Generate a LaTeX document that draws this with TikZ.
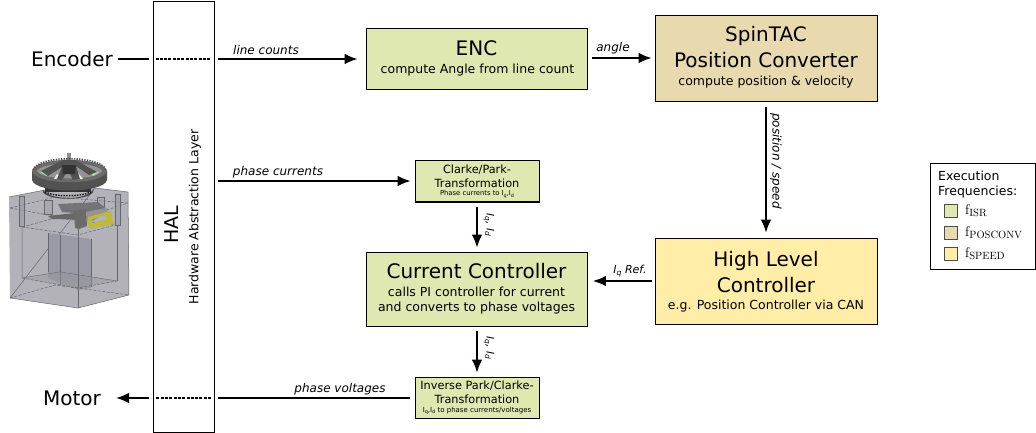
\documentclass[tikz,border=0pt]{standalone}
\usepackage{fontspec}
\setmainfont{DejaVu Sans}
\newfontfamily\lmr{Latin Modern Roman}
\usetikzlibrary{arrows.meta,calc}
\definecolor{cgreen}{HTML}{DFE8B0}
\definecolor{ctan}{HTML}{E8DAAE}
\definecolor{cyel}{HTML}{FFEDA8}
\definecolor{gblock}{HTML}{B2B2B8}
\definecolor{gcol}{HTML}{9A9AA6}
\definecolor{gline}{HTML}{666670}
\newcommand{\fs}[1]{\fontsize{#1}{#1}\selectfont}
\newcommand{\subq}[1]{\raisebox{-1.5pt}{\scalebox{.7}{#1}}}
\tikzset{
  x=1pt,y=-1pt,
  blk/.style={draw=black,line width=1.3pt,align=center,inner sep=0pt,anchor=north west},
  conn/.style={line width=1.5pt,-{Latex[length=13pt,width=10.5pt]}},
  plain/.style={line width=1.5pt},
  hid/.style={line width=1.4pt,dash pattern=on 3pt off 1.3pt},
  lab/.style={font=\fs{12}\itshape,inner sep=0pt},
  sw/.style={draw=black!70,line width=.8pt,minimum width=13pt,minimum height=13pt,inner sep=0pt},
  gl/.style={draw=gline,line width=.5pt},
  gd/.style={draw=gline,line width=.5pt,dash pattern=on 3pt off 1.5pt}
}
\begin{document}
\begin{tikzpicture}
\useasboundingbox (0,0) rectangle (1036,433);
\fill[white] (0,0) rectangle (1036,433);

% HAL
\node[blk,minimum width=61pt,minimum height=431pt,fill=white] (hal) at (152.7,0.8) {};
\node[rotate=90,font=\fs{19}] (haltxt) at (172,225) {HAL};
\node[rotate=90,font=\fs{12.5}] (halsub) at (195,217) {Hardware Abstraction Layer};

% Boxes
\node[blk,fill=cgreen,minimum width=221pt,minimum height=61pt] (enc) at (365.6,27.6) {};
\node[font=\fs{20}] (enct) at (476.5,48) {ENC};
\node[font=\fs{12.5}] (encs) at (477.5,70) {compute Angle from line count};

\node[blk,fill=ctan,minimum width=222pt,minimum height=86pt] (spin) at (654.6,14.6) {};
\node[font=\fs{20}] (spt) at (766,36) {SpinTAC};
\node[font=\fs{20}] (spp) at (766,60) {Position Converter};
\node[font=\fs{12.5}] (sps) at (766,82) {compute position \& velocity};

\node[blk,fill=cyel,minimum width=222pt,minimum height=86pt] (hlc) at (654.6,237.6) {};
\node[font=\fs{20}] (hl1) at (766,261) {High Level};
\node[font=\fs{20}] (hl2) at (766,285) {Controller};
\node[font=\fs{12.5}] (hl3) at (766,306) {e.g. Position Controller via CAN};

\node[blk,fill=cgreen,minimum width=221pt,minimum height=74pt] (cc) at (365.6,251.6) {};
\node[font=\fs{20}] (cc1) at (476.5,271) {Current Controller};
\node[font=\fs{12.5}] (cc2) at (476.5,292) {calls PI controller for current};
\node[font=\fs{12.5}] (cc3) at (476.5,308) {and converts to phase voltages};

\node[blk,fill=cgreen,minimum width=124pt,minimum height=41pt] (cp) at (414.6,160.2) {};
\node[font=\fs{11.3}] (cp1) at (477,170) {Clarke/Park-};
\node[font=\fs{11.3}] (cp2) at (477,183.5) {Transformation};
\node[font=\fs{6.8}] (cp3) at (477,194.5) {Phase currents to I\subq{q},I\subq{d}};

\node[blk,fill=cgreen,minimum width=124pt,minimum height=41pt] (ip) at (414.6,376.6) {};
\node[font=\fs{11.3}] (ip1) at (477,386) {Inverse Park/Clarke-};
\node[font=\fs{11.3}] (ip2) at (477,399.5) {Transformation};
\node[font=\fs{7}] (ip3) at (477,411) {I\subq{q},I\subq{d} to phase currents/voltages};

% Encoder / Motor
\node[font=\fs{20},inner sep=0pt] (encoder) at (72,59) {Encoder};
\node[font=\fs{20},inner sep=0pt] (motor) at (72,398) {Motor};

\coordinate (hlE) at (149,59);
\coordinate (hrE) at (218,59);
\coordinate (hlM) at (149,398);
\coordinate (hrM) at (218,398);
\coordinate (hrP) at (218,181);

\draw[plain] ($(encoder.east)+(5,0)$) -- (hlE);
\draw[hid] (155.5,59) -- (211,59);
\draw[conn,shorten >=8pt] (hrE) -- (enc.west |- hrE);
\node[lab] (lc) at (266,50) {line counts};
\draw[conn,shorten >=4pt] (hrP) -- (cp.west |- hrP);
\node[lab] (pc) at (278,172) {phase currents};
\draw[conn,shorten >=3pt,shorten <=4pt] (enc.east |- 0,58) -- (spin.west |- 0,58);
\node[lab] (ang) at (613,48) {angle};
\draw[conn,shorten >=5pt,shorten <=6pt] (766,101) -- (hlc.north -| 766,0);
\node[lab,rotate=-90] (ps) at (776,161) {position / speed};
\draw[conn,shorten >=4pt,shorten <=4pt] (cp.south -| 477,0) -- (cc.north -| 477,0);
\node[lab,rotate=-90,font=\fs{10.5}\itshape] (iq1) at (489,225) {I\subq{q}, I\subq{d}};
\draw[conn,shorten >=4pt,shorten <=4pt] (cc.south -| 477,0) -- (ip.north -| 477,0);
\node[lab,rotate=-90,font=\fs{10.5}\itshape] (iq2) at (489,348) {I\subq{q}, I\subq{d}};
\draw[conn,shorten >=5pt,shorten <=3pt] (hlc.west |- 0,281) -- (cc.east |- 0,281);
\node[lab,font=\fs{11}\itshape] (iqr) at (630,271) {I\subq{q} Ref.};
\draw[plain] (410,398) -- (hrM);
\draw[hid] (211,398) -- (155.5,398);
\draw[conn] (hlM) -- ($(motor.east)+(15,0)$);
\node[lab] (pv) at (340,389) {phase voltages};

% Legend
\node[blk,fill=white,line width=1pt,minimum width=105pt,minimum height=106pt] (leg) at (930,163) {};
\node[font=\fs{12.5},align=left,anchor=north west,inner sep=0pt] (legt) at (938,171) {Execution\\[2.5pt]Frequencies:};
\node[sw,fill=cgreen] (s1) at (951,211) {};
\node[sw,fill=ctan] (s2) at (951,232.5) {};
\node[sw,fill=cyel] (s3) at (951,253.5) {};
\node[anchor=west,inner sep=0pt] (f1) at (965,211) {\lmr\fs{14}f\raisebox{-2pt}{\fs{10.5}ISR}};
\node[anchor=west,inner sep=0pt] (f2) at (965,232.5) {\lmr\fs{14}f\raisebox{-2pt}{\fs{10.5}POSCONV}};
\node[anchor=west,inner sep=0pt] (f3) at (965,253.5) {\lmr\fs{14}f\raisebox{-2pt}{\fs{10.5}SPEED}};

% Motor illustration: drawn directly
% block
\fill[gblock] (9,197) -- (45,190) -- (95,188) -- (128,192) -- (129,295) -- (78,308) -- (10,298) -- cycle;
\draw[gl] (9,197) -- (45,190) (95,188) -- (128,192) -- (129,295) -- (78,308) -- (10,298) -- cycle;
% inner column
\fill[gcol] (48,233) -- (91,239) -- (91,288) -- (78,290) -- (48,278) -- cycle;
\draw[gl] (48,233) -- (48,272) (60,235) -- (60,285) (91,239) -- (91,287);
% inner box lines
\draw[gl] (22,228) -- (22,278) -- (60,272) -- (117,281);
\draw[gl] (117,281) -- (117,226);
\fill[gblock!85!black,fill opacity=.45] (22,278) -- (60,272) -- (117,281) -- (78,288) -- cycle;
\draw[gd] (22,278) -- (78,288) -- (117,281);
\draw[gd] (10,298) -- (55,285) -- (129,295);
\draw[gd] (10,208) -- (76,220) -- (128,203);
\draw[gd] (22,227) -- (78,235) -- (115,225);
\draw[gd] (22,227) -- (55,218) -- (115,225);
\draw[gd] (10,208) -- (55,197) -- (128,203);
\draw[gl] (78,220) -- (78,308);
% pillars
\draw[gl,fill=gcol,fill opacity=.6] (19,196) rectangle (24,226);
\draw[gl,fill=gcol,fill opacity=.6] (115,194) rectangle (120,225);
\draw[gl,fill=gcol,fill opacity=.4] (44,200) rectangle (52,214);
\draw[gl,fill=gcol,fill opacity=.4] (97,197) rectangle (104,208);
% stator
\fill[black!35!gblock] (58,204) -- (98,202) -- (108,210) -- (85,214) -- (62,212) -- cycle;
\fill[black!60] (48,216) -- (75,213) -- (75,219) -- (52,219) -- cycle;
\fill[black!58] (74,211) -- (86,209) -- (87,226) -- (79,229) -- (75,228) -- cycle;
\fill[black!42] (86,212) -- (106,208) -- (108,211) -- (88,224) -- cycle;
% yellow bracket
\fill[yellow!72!black] (88,217) -- (111,211) -- (112,220) -- (115,224) -- (92,228) -- (87,227) -- (95,222) -- (107,220) -- (106,215) -- (92,219) -- (91,224) -- (88,225) -- cycle;
% lower rotor
\fill[black!75] (43,189) .. controls (46,201) and (90,201) .. (93,189) -- (93,192) .. controls (88,201) and (48,201) .. (43,192) -- cycle;
\fill[black!80] (45,186) rectangle (91,192);
\draw[black!90,line width=1.5pt,dash pattern=on 1.5pt off 1.2pt] (45,192) .. controls (55,197) and (81,197) .. (91,192);
% shaft
\fill[black!45] (67,153) rectangle (71,166);
% rotor
\fill[black!68] (32,171) -- (32,180) .. controls (35,194) and (104,194) .. (107,180) -- (107,171) -- cycle;
\fill[black!58] (32,171) .. controls (36,156) and (103,156) .. (107,171) .. controls (103,186) and (36,186) .. (32,171) -- cycle;
\fill[black!42] (37,171) .. controls (42,161) and (97,161) .. (102,171) .. controls (97,181) and (42,181) .. (37,171) -- cycle;
\fill[black!25!green!35!white] (40,172) -- (50,171) -- (47,176) -- cycle;
\fill[black!25!green!35!white] (90,171) -- (99,172) -- (93,176) -- cycle;
\fill[black!10!green!12!white] (57,174) -- (62,178) -- (54,179) -- cycle;
\fill[black!10!green!12!white] (78,173) -- (83,179) -- (75,179) -- cycle;
\fill[black!68] (63,160) -- (75,160) -- (97,172) -- (89,175) -- (76,166) -- (80,179) -- (73,180) -- (68,170) -- (62,180) -- (57,179) -- (62,167) -- (48,176) -- (41,171) -- cycle;
\fill[black!80] (62,165) -- (76,165) -- (75,174) -- (63,174) -- cycle;
\draw[black!72,line width=1.6pt,dash pattern=on 1.3pt off 1.3pt] (33,170) .. controls (38,155) and (101,155) .. (106,170);
\end{tikzpicture}
\end{document}
